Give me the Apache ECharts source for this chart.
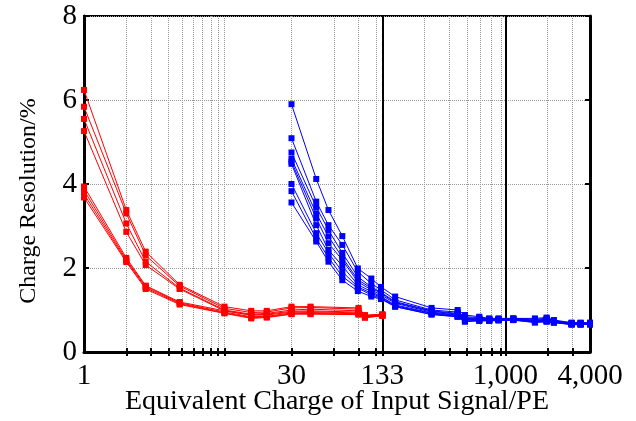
<!DOCTYPE html>
<html><head><meta charset="utf-8">
<script src="https://cdn.jsdelivr.net/npm/echarts@6/dist/echarts.min.js"></script>
<style>html,body{margin:0;padding:0;background:#fff}#c{width:636px;height:421px}</style>
</head><body><div id="c"></div>
<script>
// ---- data ----
const redX = [1, 2, 2.75, 4.8, 10, 15.5, 20, 30, 41, 90, 100, 133];
const red1 = [6.24, 3.38, 2.39, 1.60, 1.08, 0.98, 0.98, 1.08, 1.08, 1.05, 0.88, 0.90];
const red2 = [5.84, 3.30, 2.30, 1.57, 1.04, 0.94, 0.95, 1.05, 1.06, 1.02, 0.86, 0.89];
const red3 = [5.55, 3.06, 2.15, 1.52, 1.00, 0.90, 0.92, 1.00, 1.02, 0.98, 0.85, 0.88];
const red4 = [5.26, 2.86, 2.07, 1.50, 0.98, 0.88, 0.90, 0.97, 0.98, 0.95, 0.84, 0.87];
const red5 = [3.94, 2.24, 1.58, 1.19, 0.98, 0.88, 0.88, 0.95, 0.96, 0.93, 0.84, 0.88];
const red6 = [3.85, 2.20, 1.56, 1.17, 0.95, 0.84, 0.85, 0.93, 0.94, 0.91, 0.83, 0.87];
const red7 = [3.76, 2.17, 1.53, 1.15, 0.93, 0.82, 0.83, 0.91, 0.92, 0.90, 0.82, 0.86];
const red8 = [3.68, 2.14, 1.50, 1.13, 0.92, 0.80, 0.82, 0.90, 0.90, 0.89, 0.82, 0.86];

const blueX = [30, 45, 55, 69, 89, 111, 130, 164, 298, 457, 515, 651, 767, 894, 1137, 1622, 1964, 2214, 2958, 3430, 4000];
const blue1 = [5.90, 4.12, 3.38, 2.76, 1.99, 1.75, 1.55, 1.32, 1.05, 1.00, 0.88, 0.84, 0.80, 0.80, 0.80, 0.80, 0.82, 0.76, 0.70, 0.70, 0.70];
const blue2 = [5.09, 3.58, 3.02, 2.55, 1.91, 1.63, 1.48, 1.24, 1.00, 0.95, 0.84, 0.82, 0.79, 0.79, 0.80, 0.78, 0.80, 0.75, 0.69, 0.69, 0.69];
const blue3 = [4.75, 3.45, 2.90, 2.36, 1.79, 1.55, 1.42, 1.20, 0.98, 0.92, 0.82, 0.80, 0.78, 0.78, 0.79, 0.76, 0.78, 0.74, 0.68, 0.68, 0.68];
const blue4 = [4.60, 3.30, 2.75, 2.25, 1.72, 1.52, 1.40, 1.18, 0.97, 0.90, 0.80, 0.79, 0.78, 0.78, 0.78, 0.75, 0.77, 0.73, 0.68, 0.68, 0.67];
const blue5 = [4.53, 3.18, 2.59, 2.19, 1.67, 1.48, 1.36, 1.16, 0.95, 0.88, 0.78, 0.78, 0.77, 0.77, 0.78, 0.74, 0.76, 0.72, 0.67, 0.67, 0.67];
const blue6 = [4.48, 3.02, 2.43, 2.05, 1.60, 1.44, 1.32, 1.12, 0.93, 0.87, 0.77, 0.77, 0.76, 0.77, 0.77, 0.73, 0.75, 0.71, 0.67, 0.66, 0.66];
const blue7 = [4.00, 2.83, 2.36, 1.91, 1.55, 1.40, 1.30, 1.10, 0.92, 0.85, 0.76, 0.76, 0.75, 0.76, 0.77, 0.72, 0.74, 0.71, 0.66, 0.66, 0.66];
const blue8 = [3.83, 2.70, 2.25, 1.80, 1.52, 1.36, 1.28, 1.08, 0.90, 0.84, 0.74, 0.75, 0.75, 0.76, 0.76, 0.71, 0.73, 0.70, 0.66, 0.66, 0.66];
const blue9 = [3.56, 2.63, 2.15, 1.71, 1.45, 1.32, 1.26, 1.08, 0.89, 0.84, 0.72, 0.74, 0.74, 0.75, 0.76, 0.70, 0.72, 0.70, 0.65, 0.65, 0.66];

const xTickLabels = [1, 30, 133, 1000, 4000];
const xGridValues = [2, 3, 4, 5, 6, 7, 8, 9, 10, 30, 60, 90, 120, 133, 266, 399, 532, 665, 798, 931, 1000, 2000, 3000];
const xSolidLines = [133, 1000];
const yTickValues = [0, 2, 4, 6, 8];

const xName = 'Equivalent Charge of Input Signal/PE';
const yName = 'Charge Resolution/%';

// ---- chart ----
const FONT = '"Liberation Serif", "Times New Roman", serif';
const zip = (xs, ys) => xs.map((x, i) => [x, ys[i]]);
const mk = (xs, ys, color) => ({
  type: 'line', data: zip(xs, ys), xAxisIndex: 0, yAxisIndex: 0,
  symbol: 'rect', symbolSize: 6, z: 5,
  lineStyle: { color: color, width: 1 }, itemStyle: { color: color },
  emphasis: { disabled: true }, silent: true
});
const reds = [red1, red2, red3, red4, red5, red6, red7, red8];
const blues = [blue1, blue2, blue3, blue4, blue5, blue6, blue7, blue8, blue9];

const chart = echarts.init(document.getElementById('c'), null, { renderer: 'canvas' });
chart.setOption({
  animation: false,
  backgroundColor: '#fff',
  grid: { left: 84, right: 46, top: 16, bottom: 69, containLabel: false, outerBoundsMode: 'none',
    show: true, borderColor: '#000', borderWidth: 2, backgroundColor: 'transparent' },
  xAxis: [{
    type: 'log', logBase: 10, min: 1, max: 4000, position: 'bottom',
    name: xName, nameLocation: 'middle', nameGap: 36, nameMoveOverlap: false,
    nameTextStyle: { fontFamily: FONT, fontSize: 28, color: '#000' },
    axisLine: { show: true, lineStyle: { color: '#000', width: 3 } },
    axisTick: { show: true, inside: true, length: 4, customValues: xGridValues, lineStyle: { color: '#000', width: 2 } },
    minorTick: { show: false },
    axisLabel: { show: true, customValues: xTickLabels, fontFamily: FONT, fontSize: 29, color: '#000', margin: 10,
      formatter: v => Number(v).toLocaleString('en-US') },
    splitLine: { show: true, lineStyle: { color: '#999', width: 1, type: [1, 1] } }
  }, {
    type: 'log', logBase: 10, min: 1, max: 4000, position: 'top',
    axisLine: { show: false },
    axisTick: { show: true, inside: true, length: 4, customValues: xGridValues, lineStyle: { color: '#000', width: 2 } },
    axisLabel: { show: false }, splitLine: { show: false }
  }],
  yAxis: [{
    type: 'value', min: 0, max: 8, interval: 2, position: 'left',
    name: yName, nameLocation: 'middle', nameGap: 43, nameRotate: 90, nameMoveOverlap: false,
    nameTextStyle: { fontFamily: FONT, fontSize: 24, color: '#000', padding: [0, 34, 0, 0] },
    axisLine: { show: true, lineStyle: { color: '#000', width: 3 } },
    axisTick: { show: true, inside: true, length: 5, lineStyle: { color: '#000', width: 2 } },
    axisLabel: { fontFamily: FONT, fontSize: 29, color: '#000', margin: 7 },
    splitLine: { show: true, lineStyle: { color: '#999', width: 1, type: [1, 1] } }
  }, {
    type: 'value', min: 0, max: 8, interval: 2, position: 'right',
    axisLine: { show: true, lineStyle: { color: '#000', width: 3 } },
    axisTick: { show: true, inside: true, length: 5, lineStyle: { color: '#000', width: 2 } },
    axisLabel: { show: false }, splitLine: { show: false }
  }],
  series: [{
    type: 'line', data: [], z: 1, silent: true,
    markLine: { symbol: 'none', silent: true, label: { show: false },
      lineStyle: { color: '#000', width: 2, type: 'solid' },
      data: xSolidLines.map(v => ({ xAxis: v })) }
  }].concat(reds.map(r => mk(redX, r, '#ff0000')), blues.map(b => mk(blueX, b, '#0000ff')))
});
</script></body></html>
